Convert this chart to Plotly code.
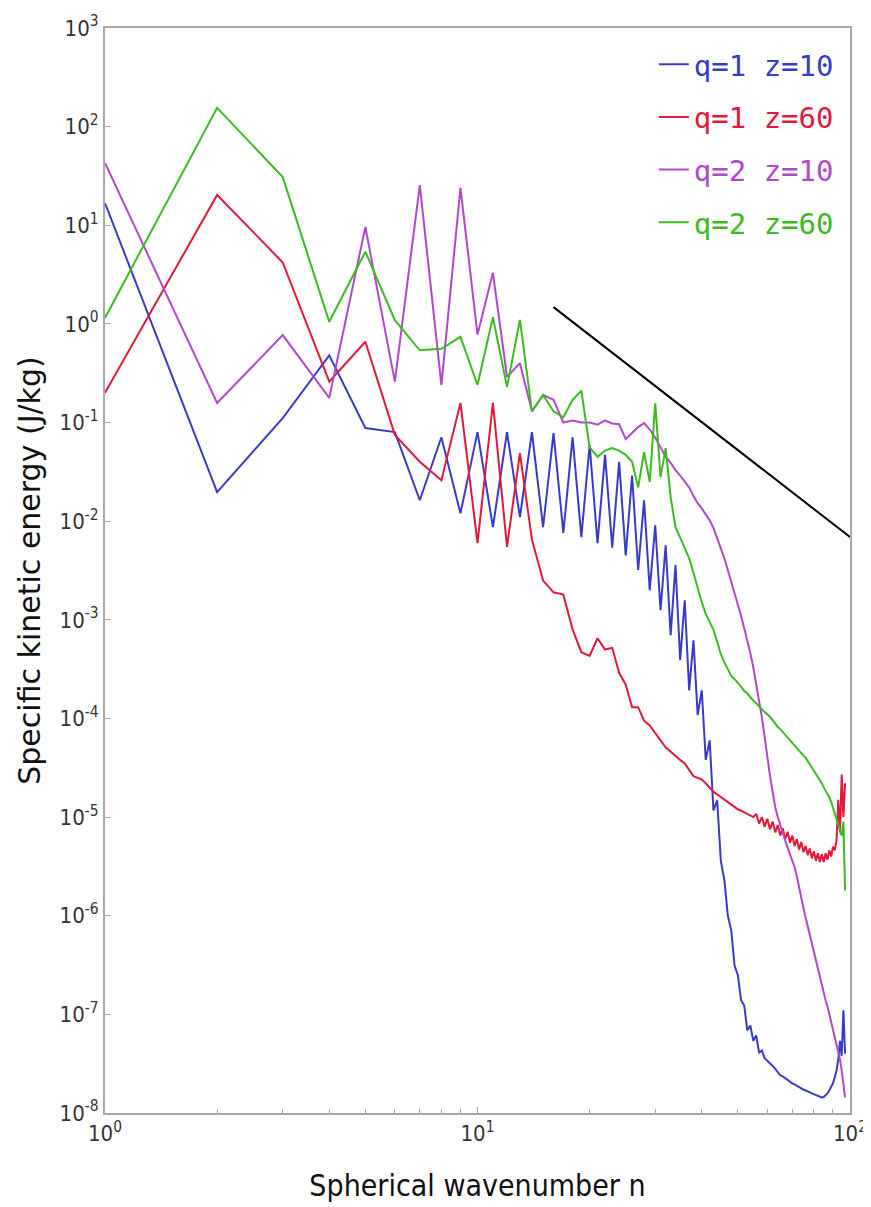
import plotly.graph_objects as go

n = list(range(1, 98))

E_q1_z10 = [16.8, 0.0197, 0.111, 0.48, 0.088, 0.080, 0.0163, 0.071, 0.012, 0.080,
            0.0087, 0.080, 0.011, 0.080, 0.0087, 0.078, 0.0076, 0.071, 0.0069, 0.059,
            0.0060, 0.047, 0.0054, 0.040, 0.0045, 0.029, 0.0032, 0.0163, 0.0020, 0.0091,
            0.00125, 0.0057, 0.00070, 0.0036, 0.00039, 0.00158, 0.000193, 0.00062, 0.000108, 0.000193,
            3.8e-5, 6.0e-5, 1.17e-5, 1.48e-5, 3.6e-6, 2.3e-6, 1.0e-6, 7.1e-7, 3.1e-7, 2.5e-7,
            1.39e-7, 1.23e-7, 6.9e-8, 7.7e-8, 5.4e-8, 6.1e-8, 4.1e-8, 4.3e-8, 3.6e-8, 3.4e-8,
            3.2e-8, 3.0e-8, 2.8e-8, 2.6e-8, 2.4e-8, 2.35e-8, 2.25e-8, 2.15e-8, 2.05e-8, 2.0e-8,
            1.95e-8, 1.88e-8, 1.82e-8, 1.78e-8, 1.73e-8, 1.70e-8, 1.66e-8, 1.62e-8, 1.58e-8, 1.55e-8,
            1.52e-8, 1.49e-8, 1.46e-8, 1.44e-8, 1.45e-8, 1.5e-8, 1.58e-8, 1.7e-8, 1.85e-8, 2.0e-8,
            2.3e-8, 2.7e-8, 3.5e-8, 5.4e-8, 3.8e-8, 1.1e-7, 4.0e-8]

E_q1_z60 = [0.20, 20.3, 4.2, 0.26, 0.66, 0.075, 0.04, 0.026, 0.158, 0.006,
            0.158, 0.0055, 0.049, 0.0065, 0.0025, 0.0019, 0.0018, 0.0008, 0.00047, 0.00043,
            0.00065, 0.0005, 0.00052, 0.00029, 0.00022, 0.00013, 0.00013, 9.5e-5, 8.5e-5, 7.2e-5,
            6.0e-5, 5.1e-5, 4.6e-5, 4.1e-5, 3.8e-5, 3.5e-5, 3.0e-5, 2.6e-5, 2.5e-5, 2.4e-5,
            2.2e-5, 2.0e-5, 1.8e-5, 1.7e-5, 1.6e-5, 1.5e-5, 1.42e-5, 1.35e-5, 1.28e-5, 1.2e-5,
            1.16e-5, 1.12e-5, 1.08e-5, 1.04e-5, 1.0e-5, 1.08e-5, 8.6e-6, 1.0e-5, 8.0e-6, 9.6e-6,
            7.5e-6, 9.0e-6, 7.0e-6, 8.3e-6, 6.5e-6, 7.7e-6, 6.0e-6, 7.1e-6, 5.5e-6, 6.5e-6,
            5.1e-6, 6.0e-6, 4.7e-6, 5.6e-6, 4.4e-6, 5.1e-6, 4.1e-6, 4.8e-6, 3.8e-6, 4.5e-6,
            3.6e-6, 4.3e-6, 3.5e-6, 4.2e-6, 3.5e-6, 4.3e-6, 3.7e-6, 4.6e-6, 4.0e-6, 5.0e-6,
            4.6e-6, 5.8e-6, 1.5e-5, 7.0e-6, 2.7e-5, 1.0e-5, 2.2e-5]

E_q2_z10 = [42.8, 0.158, 0.77, 0.178, 9.6, 0.26, 25.6, 0.24, 24.0, 0.78,
            3.3, 0.29, 0.40, 0.13, 0.19, 0.17, 0.10, 0.105, 0.10, 0.10,
            0.095, 0.105, 0.098, 0.096, 0.068, 0.078, 0.09, 0.099, 0.085, 0.07,
            0.055, 0.045, 0.039, 0.033, 0.029, 0.025, 0.022, 0.018, 0.0152, 0.0135,
            0.0118, 0.0102, 0.0085, 0.0068, 0.0053, 0.0042, 0.0032, 0.0024, 0.0019, 0.00145,
            0.0011, 0.00082, 0.00062, 0.00046, 0.00033, 0.00023, 0.00015, 0.000103, 6.5e-5, 3.8e-5,
            2.6e-5, 1.8e-5, 1.26e-5, 1.0e-5, 8.2e-6, 6.8e-6, 5.8e-6, 4.9e-6, 4.2e-6, 3.6e-6,
            3.1e-6, 2.5e-6, 2.0e-6, 1.6e-6, 1.2e-6, 9.6e-7, 7.8e-7, 6.3e-7, 5.1e-7, 4.2e-7,
            3.5e-7, 2.9e-7, 2.4e-7, 2.0e-7, 1.65e-7, 1.39e-7, 1.2e-7, 1.0e-7, 8.6e-8, 7.4e-8,
            6.2e-8, 5.2e-8, 4.3e-8, 3.5e-8, 2.7e-8, 2.0e-8, 1.44e-8]

E_q2_z60 = [1.15, 155.0, 30.8, 1.05, 5.4, 1.09, 0.54, 0.56, 0.74, 0.24,
            1.17, 0.23, 1.1, 0.13, 0.19, 0.13, 0.113, 0.17, 0.21, 0.056,
            0.045, 0.052, 0.055, 0.052, 0.047, 0.04, 0.022, 0.05, 0.025, 0.157,
            0.028, 0.055, 0.0175, 0.0087, 0.0068, 0.0054, 0.0042, 0.0030, 0.0021, 0.0015,
            0.00115, 0.00095, 0.00079, 0.0006, 0.00045, 0.00037, 0.00031, 0.00027, 0.00025, 0.00023,
            0.00021, 0.00019, 0.00018, 0.000164, 0.000152, 0.000142, 0.000132, 0.000124, 0.000116, 0.000110,
            0.000104, 9.6e-5, 8.8e-5, 8.2e-5, 7.8e-5, 7.3e-5, 6.8e-5, 6.3e-5, 5.9e-5, 5.6e-5,
            5.3e-5, 5.0e-5, 4.7e-5, 4.4e-5, 4.2e-5, 4.0e-5, 3.7e-5, 3.45e-5, 3.2e-5, 2.95e-5,
            2.7e-5, 2.55e-5, 2.4e-5, 2.2e-5, 2.0e-5, 1.85e-5, 1.7e-5, 1.59e-5, 1.42e-5, 1.25e-5,
            1.1e-5, 9.6e-6, 8.4e-6, 7.3e-6, 6.5e-6, 9.0e-6, 1.8e-6]

ref_n = [16, 100]
ref_E = [1.48, 0.0069]

x_tickvals = [1, 10, 100]
x_ticktext = ["10<sup>0</sup>", "10<sup>1</sup>", "10<sup>2</sup>"]
x_minor_vals = [2, 3, 4, 5, 6, 7, 8, 9, 20, 30, 40, 50, 60, 70, 80, 90]
y_exponents = [3, 2, 1, 0, -1, -2, -3, -4, -5, -6, -7, -8]
y_tickvals = [10.0 ** k for k in y_exponents]
y_ticktext = ["10<sup>%d</sup>" % k for k in y_exponents]

series = [
    ("q=1 z=10", E_q1_z10, "#3a3ac8"),
    ("q=1 z=60", E_q1_z60, "#e0183c"),
    ("q=2 z=10", E_q2_z10, "#b048c8"),
    ("q=2 z=60", E_q2_z60, "#3cba20"),
]

fig = go.Figure()
for i, (name, vals, col) in enumerate(series):
    fig.add_trace(go.Scatter(
        x=n, y=vals, mode="lines", line=dict(color=col, width=2),
        name='<span style="color:%s">%s</span>' % (col, name),
        legendgroup="g%d" % i,
    ))
fig.add_trace(go.Scatter(x=ref_n, y=ref_E, mode="lines",
                         line=dict(color="black", width=2), showlegend=False))

tick_font = dict(family="DejaVu Sans Condensed, Liberation Sans Narrow, DejaVu Sans", size=22, color="#333")
axis_common = dict(
    type="log", showgrid=False, zeroline=False, automargin=False,
    showline=True, linecolor="#a8a8a8", linewidth=2, mirror=True,
    ticks="inside", ticklen=6, tickcolor="#a8a8a8",
    tickfont=tick_font,
)

fig.update_layout(
    width=863, height=1199,
    margin=dict(l=97, r=21, t=20, b=94),
    paper_bgcolor="white", plot_bgcolor="white",
    xaxis=dict(range=[0, 2], tickmode="array", tickvals=x_tickvals, ticktext=x_ticktext,
               minor=dict(tickmode="array", tickvals=x_minor_vals, ticks="inside",
                          ticklen=4, tickcolor="#a8a8a8"),
               title=dict(text="Spherical wavenumber n", standoff=30,
                          font=dict(family="DejaVu Sans Condensed, DejaVu Sans", size=30, color="#111")),
               **axis_common),
    yaxis=dict(range=[-8, 3], tickmode="array", tickvals=y_tickvals, ticktext=y_ticktext,
               title=dict(text="Specific kinetic energy (J/kg)", standoff=10,
                          font=dict(family="DejaVu Sans, Liberation Sans", size=30, color="#111")),
               **axis_common),
    legend=dict(x=0.985, y=0.99, xanchor="right", yanchor="top",
                bgcolor="rgba(255,255,255,0)", borderwidth=0,
                font=dict(family="DejaVu Sans Mono, Liberation Mono", size=29),
                tracegroupgap=12, itemwidth=30),
    showlegend=True,
)

fig.write_html("out.html")
